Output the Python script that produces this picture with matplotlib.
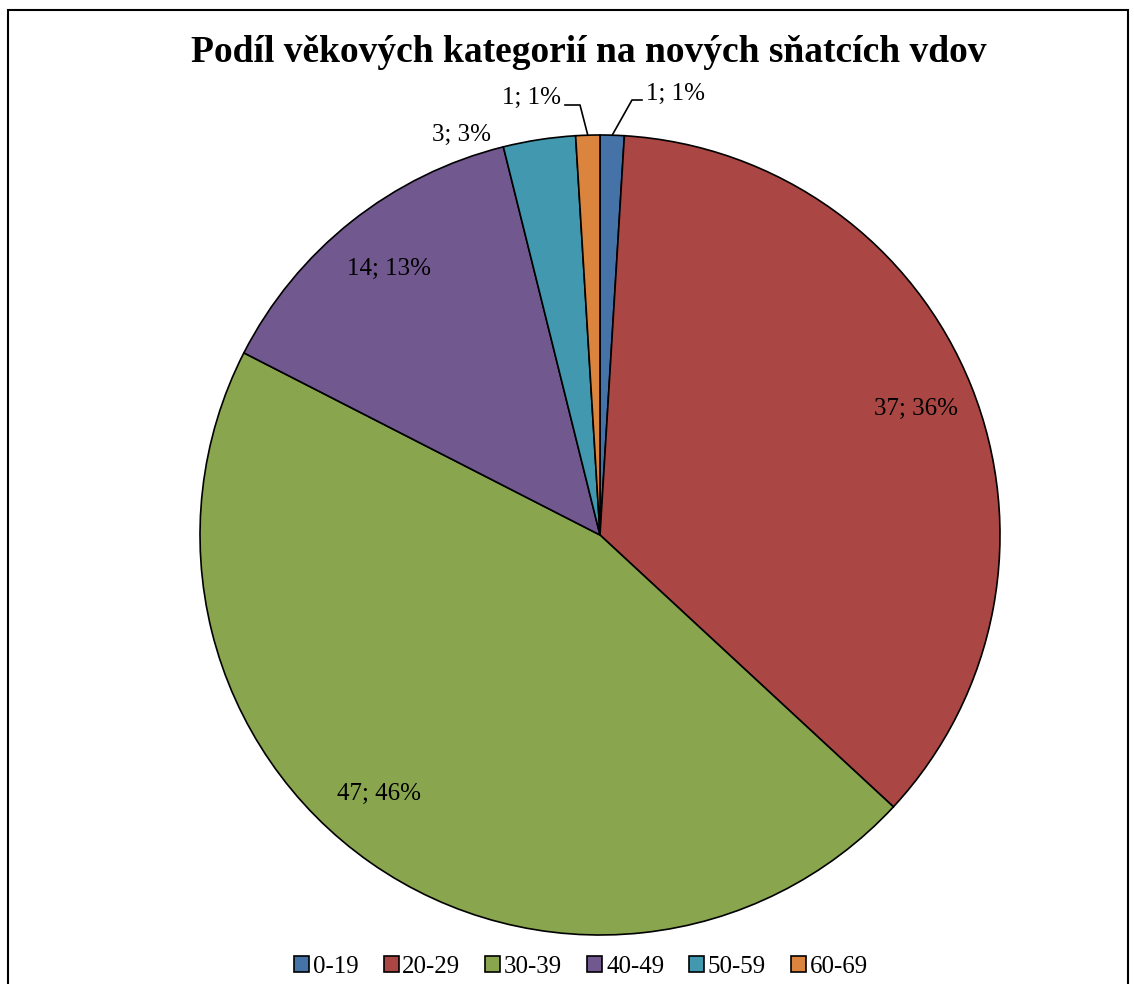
import numpy as np
import matplotlib
matplotlib.use("Agg")
import matplotlib.pyplot as plt
from matplotlib.patches import Rectangle

plt.rcParams['font.family'] = ['Liberation Serif', 'DejaVu Serif']

categories = ["0-19", "20-29", "30-39", "40-49", "50-59", "60-69"]
counts = [1, 37, 47, 14, 3, 1]
pct_labels = ["1%", "36%", "46%", "13%", "3%", "1%"]
colors = ["#4572A7", "#AA4643", "#89A54E", "#71588F", "#4198AF", "#DB843D"]

W, H = 1134, 984
CX, CY, R = 600, 535, 400  # pie centre/radius in pixels

fig = plt.figure(figsize=(W / 100, H / 100), dpi=100)
ax = fig.add_axes([0, 0, 1, 1])

wedges, _ = ax.pie(counts, colors=colors, startangle=90, counterclock=False,
                   radius=1.0, wedgeprops=dict(edgecolor="black", linewidth=1.2))
# pie() resets limits and aspect, so set them afterwards
ax.set_aspect("auto")
ax.set_xlim(-CX / R, (W - CX) / R)
ax.set_ylim((CY - H) / R, CY / R)
ax.axis("off")

def px(x, y):
    # pixel -> data
    return ((x - CX) / R, (CY - y) / R)

labels = [f"{c}; {p}" for c, p in zip(counts, pct_labels)]
mids = [np.deg2rad((w.theta1 + w.theta2) / 2) for w in wedges]
FS = 18

# inside labels (slight angle tweak for the big green one, like Excel places it)
for i, shift in [(1, 0), (2, -5.5), (3, 0)]:
    a = mids[i] + np.deg2rad(shift)
    d = 0.85
    ax.text(d * np.cos(a), d * np.sin(a), labels[i], ha="center", va="center", fontsize=FS)

# 50-59 label outside, no leader
tx, ty = px(462, 135)
ax.text(tx, ty, labels[4], ha="center", va="center", fontsize=FS)

# small slices with leader lines
for i, kink, end, txt, ha in [(0, (632, 100), (642, 100), (646, 94), "left"),
                             (5, (580, 105), (565, 105), (561, 98), "right")]:
    ex, ey = np.cos(mids[i]), np.sin(mids[i])
    kx, ky = px(*kink)
    hx, hy = px(*end)
    ax.plot([ex, kx, hx], [ey, ky, hy], color="black", lw=1.2)
    t = px(*txt)
    ax.text(t[0], t[1], labels[i], ha=ha, va="center", fontsize=FS)

fig.text(589 / W, 1 - 52 / H, "Podíl věkových kategorií na nových sňatcích vdov",
         ha="center", va="center", fontsize=27, fontweight="bold")

handles = [Rectangle((0, 0), 1, 1, facecolor=c, edgecolor="black", lw=1.2) for c in colors]
fig.legend(handles, categories, loc="center", bbox_to_anchor=(581 / W, 1 - 967 / H),
           ncol=6, frameon=False, fontsize=FS, handlelength=0.6, handleheight=0.6,
           handletextpad=0.15, columnspacing=1.0)

fig.patches.append(Rectangle((8 / W, -0.01), 1120 / W, 1 - 10 / H + 0.01,
                             transform=fig.transFigure, fill=False, edgecolor="black", lw=1.5))

fig.savefig("out.png", dpi=100)
